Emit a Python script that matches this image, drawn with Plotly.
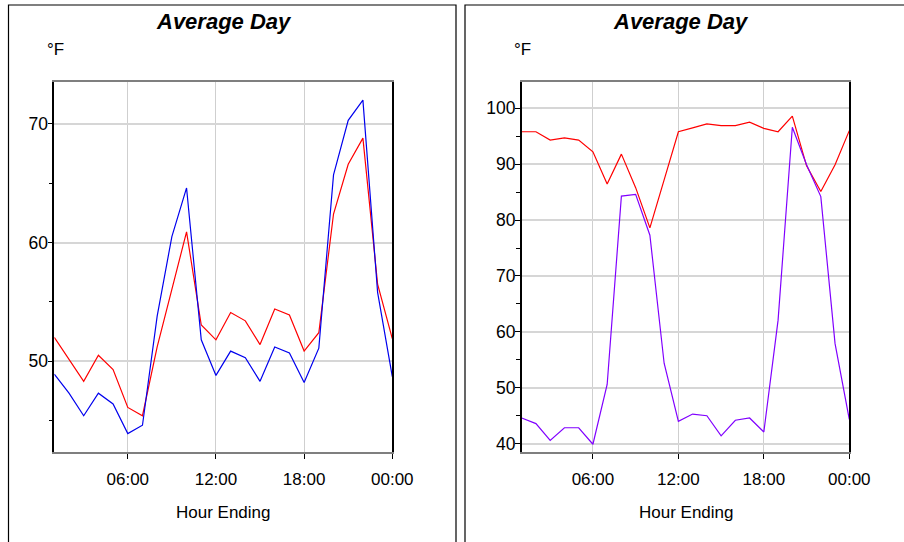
import plotly.graph_objects as go

W, H = 904, 542

hours = list(range(1, 25))
tick_vals = [6, 12, 18, 24]
tick_text = ["06:00", "12:00", "18:00", "00:00"]

left_red = [52.0, 50.1, 48.3, 50.5, 49.3, 46.1, 45.4, 51.2, 56.0, 60.9, 53.05, 51.8,
            54.1, 53.4, 51.4, 54.4, 53.9, 50.85, 52.4, 62.4, 66.6, 68.8, 56.5, 51.9]
left_blue = [48.9, 47.3, 45.4, 47.3, 46.4, 43.9, 44.6, 53.8, 60.5, 64.6, 51.8, 48.8,
             50.85, 50.3, 48.3, 51.2, 50.7, 48.2, 51.1, 65.7, 70.3, 72.0, 55.8, 48.7]
right_red = [95.8, 95.8, 94.3, 94.7, 94.3, 92.2, 86.45, 91.8, 85.8, 78.6, 87.2, 95.8,
             96.5, 97.2, 96.9, 96.9, 97.5, 96.4, 95.8, 98.6, 89.7, 85.1, 89.9, 96.0]
right_purple = [44.6, 43.6, 40.6, 42.85, 42.85, 39.9, 50.6, 84.3, 84.6, 77.3, 54.4, 44.0,
                45.3, 45.0, 41.4, 44.2, 44.6, 42.1, 62.1, 96.6, 89.9, 84.2, 57.9, 44.35]

FONT = "Liberation Sans, Arial, sans-serif"

def px(x):
    return x / W

def py(y):
    return 1 - y / H

fig = go.Figure()
fig.add_trace(go.Scatter(x=hours, y=left_red, mode="lines", line=dict(color="#ff0000", width=1.2),
                         xaxis="x", yaxis="y", showlegend=False))
fig.add_trace(go.Scatter(x=hours, y=left_blue, mode="lines", line=dict(color="#0000ee", width=1.2),
                         xaxis="x", yaxis="y", showlegend=False))
fig.add_trace(go.Scatter(x=hours, y=right_red, mode="lines", line=dict(color="#ff0000", width=1.2),
                         xaxis="x2", yaxis="y2", showlegend=False))
fig.add_trace(go.Scatter(x=hours, y=right_purple, mode="lines", line=dict(color="#8000ff", width=1.2),
                         xaxis="x2", yaxis="y2", showlegend=False))

xcommon = dict(range=[1, 24], tickvals=tick_vals, ticktext=tick_text, showgrid=True,
               gridcolor="#cfcfcf", gridwidth=1, showline=True, linecolor="#7f7f7f",
               linewidth=2, mirror=True, ticks="outside", ticklen=5, tickcolor="#000000",
               tickfont=dict(family=FONT, size=17, color="#000000"), zeroline=False,
               automargin=False, ticklabelstandoff=6, fixedrange=True)
ycommon = dict(showgrid=True, gridcolor="#d6d6d6", gridwidth=2, showline=True,
               linecolor="#000000", linewidth=1.5, mirror=True, ticks="outside", ticklen=5,
               tickcolor="#000000", tickfont=dict(family=FONT, size=17.5, color="#000000"),
               zeroline=False, automargin=False, fixedrange=True, ticklabelstandoff=-4,
               minor=dict(ticks="outside", ticklen=4, dtick=5, tickcolor="#000000", showgrid=False))

ydom = [py(451.7), py(82)]
fig.update_layout(
    width=W, height=H, margin=dict(l=0, r=0, t=0, b=0), template="none",
    paper_bgcolor="white", plot_bgcolor="white",
    xaxis=dict(domain=[px(54.3), px(392.3)], anchor="y", **xcommon),
    yaxis=dict(domain=ydom, anchor="x", range=[42.37, 73.53], tickvals=[50, 60, 70], **ycommon),
    xaxis2=dict(domain=[px(521.7), px(849.3)], anchor="y2", **xcommon),
    yaxis2=dict(domain=ydom, anchor="x2", range=[38.57, 104.7],
                tickvals=[40, 50, 60, 70, 80, 90, 100], **ycommon),
)

shapes = [
    dict(type="rect", xref="paper", yref="paper", x0=px(8.5), x1=px(456), y0=py(560), y1=py(5),
         line=dict(color="#000000", width=1.2), fillcolor="rgba(0,0,0,0)", layer="below"),
    dict(type="rect", xref="paper", yref="paper", x0=px(465), x1=px(920), y0=py(560), y1=py(5),
         line=dict(color="#000000", width=1.2), fillcolor="rgba(0,0,0,0)", layer="below"),
]
fig.update_layout(shapes=shapes)

ann = []
for cx, fx in [(224, 45), (681, 512)]:
    ann.append(dict(text="<b><i>Average Day</i></b>", x=px(cx), y=py(21), xref="paper", yref="paper",
                    showarrow=False, xanchor="center", yanchor="middle",
                    font=dict(family=FONT, size=22, color="#000000")))
    ann.append(dict(text="°F", x=px(fx), y=py(50), xref="paper", yref="paper", showarrow=False,
                    xanchor="left", yanchor="middle", font=dict(family=FONT, size=17, color="#000000")))
for cx in [223.5, 686]:
    ann.append(dict(text="Hour Ending", x=px(cx), y=py(512), xref="paper", yref="paper",
                    showarrow=False, xanchor="center", yanchor="middle",
                    font=dict(family=FONT, size=17, color="#000000")))
fig.update_layout(annotations=ann)

fig.write_html("out.html", config={"displayModeBar": False},
               post_script="document.body.style.margin='0';")
